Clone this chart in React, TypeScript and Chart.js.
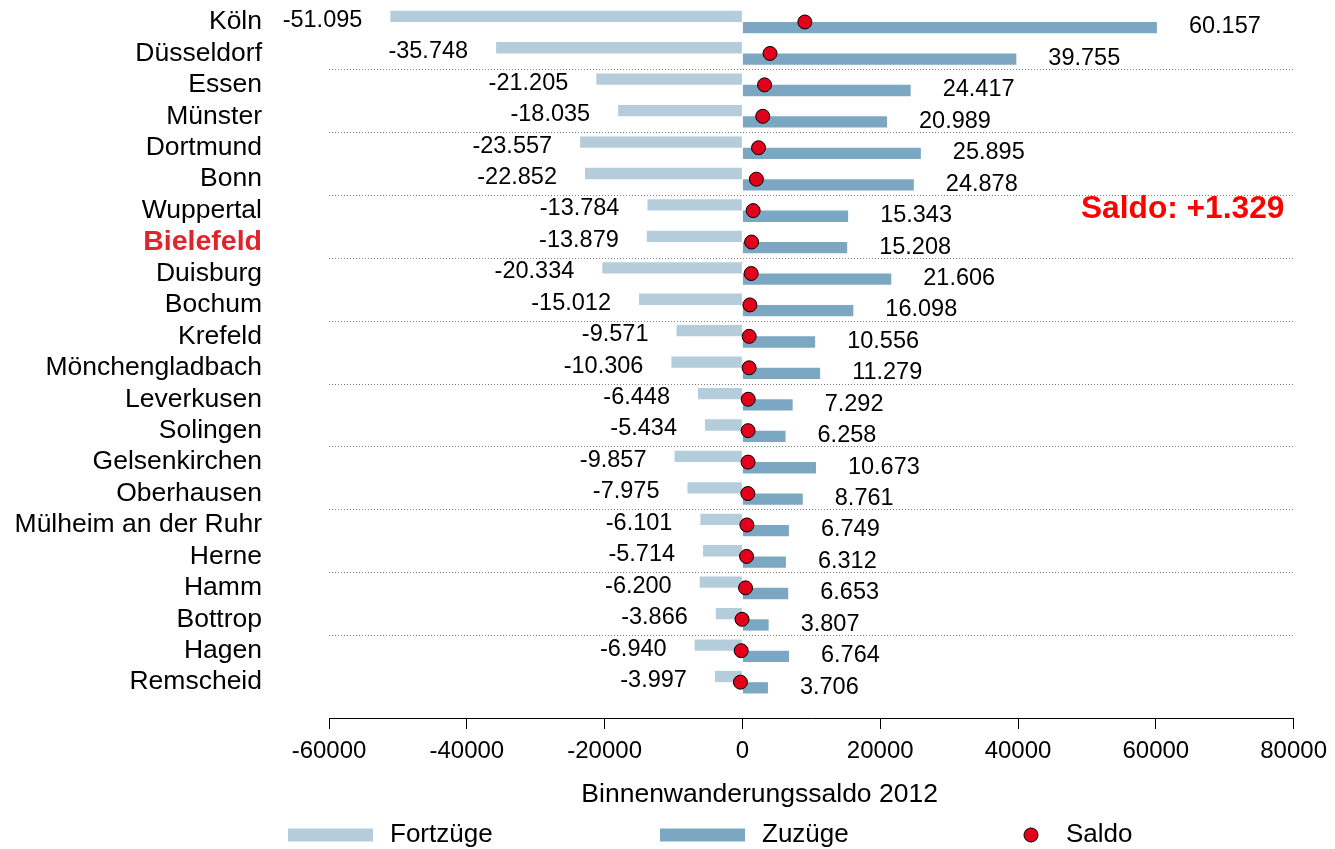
import React, { useEffect, useRef } from 'react';
import { Chart, registerables } from 'chart.js';

Chart.register(...registerables);

const FONT = "'Liberation Sans', Arial, Helvetica, sans-serif";

const cities = [
  'Köln', 'Düsseldorf', 'Essen', 'Münster', 'Dortmund', 'Bonn', 'Wuppertal', 'Bielefeld',
  'Duisburg', 'Bochum', 'Krefeld', 'Mönchengladbach', 'Leverkusen', 'Solingen',
  'Gelsenkirchen', 'Oberhausen', 'Mülheim an der Ruhr', 'Herne', 'Hamm', 'Bottrop', 'Hagen', 'Remscheid',
];
const fortzuege = [
  -51095, -35748, -21205, -18035, -23557, -22852, -13784, -13879, -20334, -15012, -9571,
  -10306, -6448, -5434, -9857, -7975, -6101, -5714, -6200, -3866, -6940, -3997,
];
const zuzuege = [
  60157, 39755, 24417, 20989, 25895, 24878, 15343, 15208, 21606, 16098, 10556,
  11279, 7292, 6258, 10673, 8761, 6749, 6312, 6653, 3807, 6764, 3706,
];
const saldo = [
  9062, 4007, 3212, 2954, 2338, 2026, 1559, 1329, 1272, 1086, 985,
  973, 844, 824, 816, 786, 648, 598, 453, -59, -176, -291,
];
const xTicks = [-60000, -40000, -20000, 0, 20000, 40000, 60000, 80000];
const highlightCity = 'Bielefeld';
const saldoNote = 'Saldo: +1.329';
const axisTitle = 'Binnenwanderungssaldo 2012';

const COLOR_FORT = '#b5cddb';
const COLOR_ZU = '#7ba7c2';
const COLOR_SALDO = '#e2001a';
const COLOR_HIGHLIGHT = '#e0242c';

// German thousands separator: 51095 -> "51.095"
const fmtDe = (v: number) =>
  (v < 0 ? '-' : '') + Math.abs(v).toString().replace(/\B(?=(\d{3})+(?!\d))/g, '.');

// Dotted separators after every second city
const pairSeparators = {
  id: 'pairSeparators',
  beforeDatasetsDraw(chart: any) {
    const { ctx, chartArea } = chart;
    const yS = chart.scales.y;
    ctx.save();
    ctx.strokeStyle = '#808080';
    ctx.lineWidth = 1;
    ctx.setLineDash([1, 2]);
    for (let i = 1; i < cities.length - 1; i += 2) {
      const y = Math.round(yS.getPixelForValue(i + 0.5)) + 0.5;
      ctx.beginPath();
      ctx.moveTo(chartArea.left, y);
      ctx.lineTo(chartArea.right, y);
      ctx.stroke();
    }
    ctx.restore();
  },
};

// Value labels beside the bar ends
const valueLabels = {
  id: 'valueLabels',
  afterDatasetsDraw(chart: any) {
    const ctx = chart.ctx;
    const yS = chart.scales.y;
    ctx.save();
    ctx.font = `23.5px ${FONT}`;
    ctx.fillStyle = '#000';
    ctx.textBaseline = 'middle';
    chart.getDatasetMeta(0).data.forEach((el: any, i: number) => {
      ctx.textAlign = 'right';
      ctx.fillText(fmtDe(fortzuege[i]), el.x - 28, yS.getPixelForValue(i) - 1.7);
    });
    chart.getDatasetMeta(1).data.forEach((el: any, i: number) => {
      ctx.textAlign = 'left';
      ctx.fillText(fmtDe(zuzuege[i]), el.x + 32, yS.getPixelForValue(i) + 5);
    });
    ctx.restore();
  },
};

// Highlight note, axis title and the legend row along the bottom
const noteAndLegend = {
  id: 'noteAndLegend',
  afterDraw(chart: any) {
    const ctx = chart.ctx;
    const xS = chart.scales.x;
    const yS = chart.scales.y;
    ctx.save();
    ctx.textBaseline = 'middle';
    ctx.textAlign = 'center';
    ctx.fillStyle = '#ff0000';
    ctx.font = `bold 31.7px ${FONT}`;
    ctx.fillText(saldoNote, xS.getPixelForValue(63900), yS.getPixelForValue(6) - 1.5);

    ctx.fillStyle = '#000';
    ctx.font = `26.5px ${FONT}`;
    ctx.fillText(axisTitle, xS.getPixelForValue(2500), 795);

    const ds = chart.data.datasets;
    const ly = 835;
    ctx.font = `26px ${FONT}`;
    ctx.textAlign = 'left';
    ctx.fillStyle = ds[0].backgroundColor;
    ctx.fillRect(288, ly - 6.5, 85, 13);
    ctx.fillStyle = '#000';
    ctx.fillText(ds[0].label, 390, ly);
    ctx.fillStyle = ds[1].backgroundColor;
    ctx.fillRect(660, ly - 6.5, 85, 13);
    ctx.fillStyle = '#000';
    ctx.fillText(ds[1].label, 762, ly);
    ctx.beginPath();
    ctx.arc(1031, ly, 7, 0, Math.PI * 2);
    ctx.fillStyle = ds[2].pointBackgroundColor;
    ctx.fill();
    ctx.lineWidth = 1;
    ctx.strokeStyle = '#000';
    ctx.stroke();
    ctx.fillStyle = '#000';
    ctx.fillText(ds[2].label, 1066, ly);
    ctx.restore();
  },
};

export default function App() {
  const canvasRef = useRef<HTMLCanvasElement | null>(null);

  useEffect(() => {
    if (!canvasRef.current) return;
    const chart = new Chart(canvasRef.current, {
      type: 'bar',
      data: {
        datasets: [
          {
            type: 'bar',
            label: 'Fortzüge',
            data: fortzuege.map((v, i) => ({ x: v, y: i })),
            backgroundColor: COLOR_FORT,
            categoryPercentage: 0.72,
            barPercentage: 1,
            order: 1,
            clip: false,
          },
          {
            type: 'bar',
            label: 'Zuzüge',
            data: zuzuege.map((v, i) => ({ x: v, y: i })),
            backgroundColor: COLOR_ZU,
            categoryPercentage: 0.72,
            barPercentage: 1,
            order: 1,
            clip: false,
          },
          {
            type: 'line',
            label: 'Saldo',
            indexAxis: 'y',
            data: saldo.map((v, i) => ({ x: v, y: i })),
            showLine: false,
            pointRadius: 7,
            pointBackgroundColor: COLOR_SALDO,
            pointBorderColor: '#000',
            pointBorderWidth: 1,
            order: 0,
            clip: false,
          },
        ] as any,
      },
      options: {
        indexAxis: 'y',
        responsive: false,
        devicePixelRatio: 1,
        animation: false,
        layout: { padding: { top: 0, right: 40, left: 0, bottom: 0 } },
        plugins: { legend: { display: false }, tooltip: { enabled: false } },
        scales: {
          x: {
            type: 'linear',
            position: 'bottom',
            min: -60000,
            max: 80000,
            offset: false,
            bounds: 'data',
            afterBuildTicks: (s: any) => {
              s.ticks = xTicks.map((v) => ({ value: v }));
            },
            afterFit: (s: any) => {
              s.height = 131;
            },
            grid: { drawOnChartArea: false, drawTicks: true, tickLength: 11, color: '#000', lineWidth: 1 },
            border: { display: true, color: '#000', width: 1 },
            ticks: {
              padding: 8,
              color: '#000',
              font: { family: FONT, size: 24 },
              maxRotation: 0,
              autoSkip: false,
              callback: (v: any) => String(v),
            },
            title: { display: false },
          },
          y: {
            type: 'linear',
            reverse: true,
            min: -0.194,
            max: 22.14,
            offset: false,
            bounds: 'data',
            grace: 0,
            afterBuildTicks: (s: any) => {
              s.ticks = cities.map((_, i) => ({ value: i }));
            },
            afterFit: (s: any) => {
              s.width = 329;
            },
            // invisible tick marks keep the city names clear of the plot region
            grid: { display: false, drawTicks: true, tickLength: 67 },
            border: { display: false },
            ticks: {
              padding: 0,
              autoSkip: false,
              callback: (v: any) => cities[v] ?? '',
              color: (c: any) => (cities[c.tick?.value] === highlightCity ? COLOR_HIGHLIGHT : '#000'),
              font: (c: any) => {
                const hl = cities[c.tick?.value] === highlightCity;
                return { family: FONT, size: hl ? 28.5 : 26.5, weight: hl ? 'bold' : 'normal' };
              },
            },
          },
        },
      } as any,
      plugins: [pairSeparators, valueLabels, noteAndLegend],
    });
    return () => chart.destroy();
  }, []);

  return (
    <div style={{ position: 'fixed', left: 0, top: 0, width: 1335, height: 849, background: '#fff' }}>
      <canvas ref={canvasRef} width={1335} height={849} style={{ display: 'block' }} />
    </div>
  );
}
